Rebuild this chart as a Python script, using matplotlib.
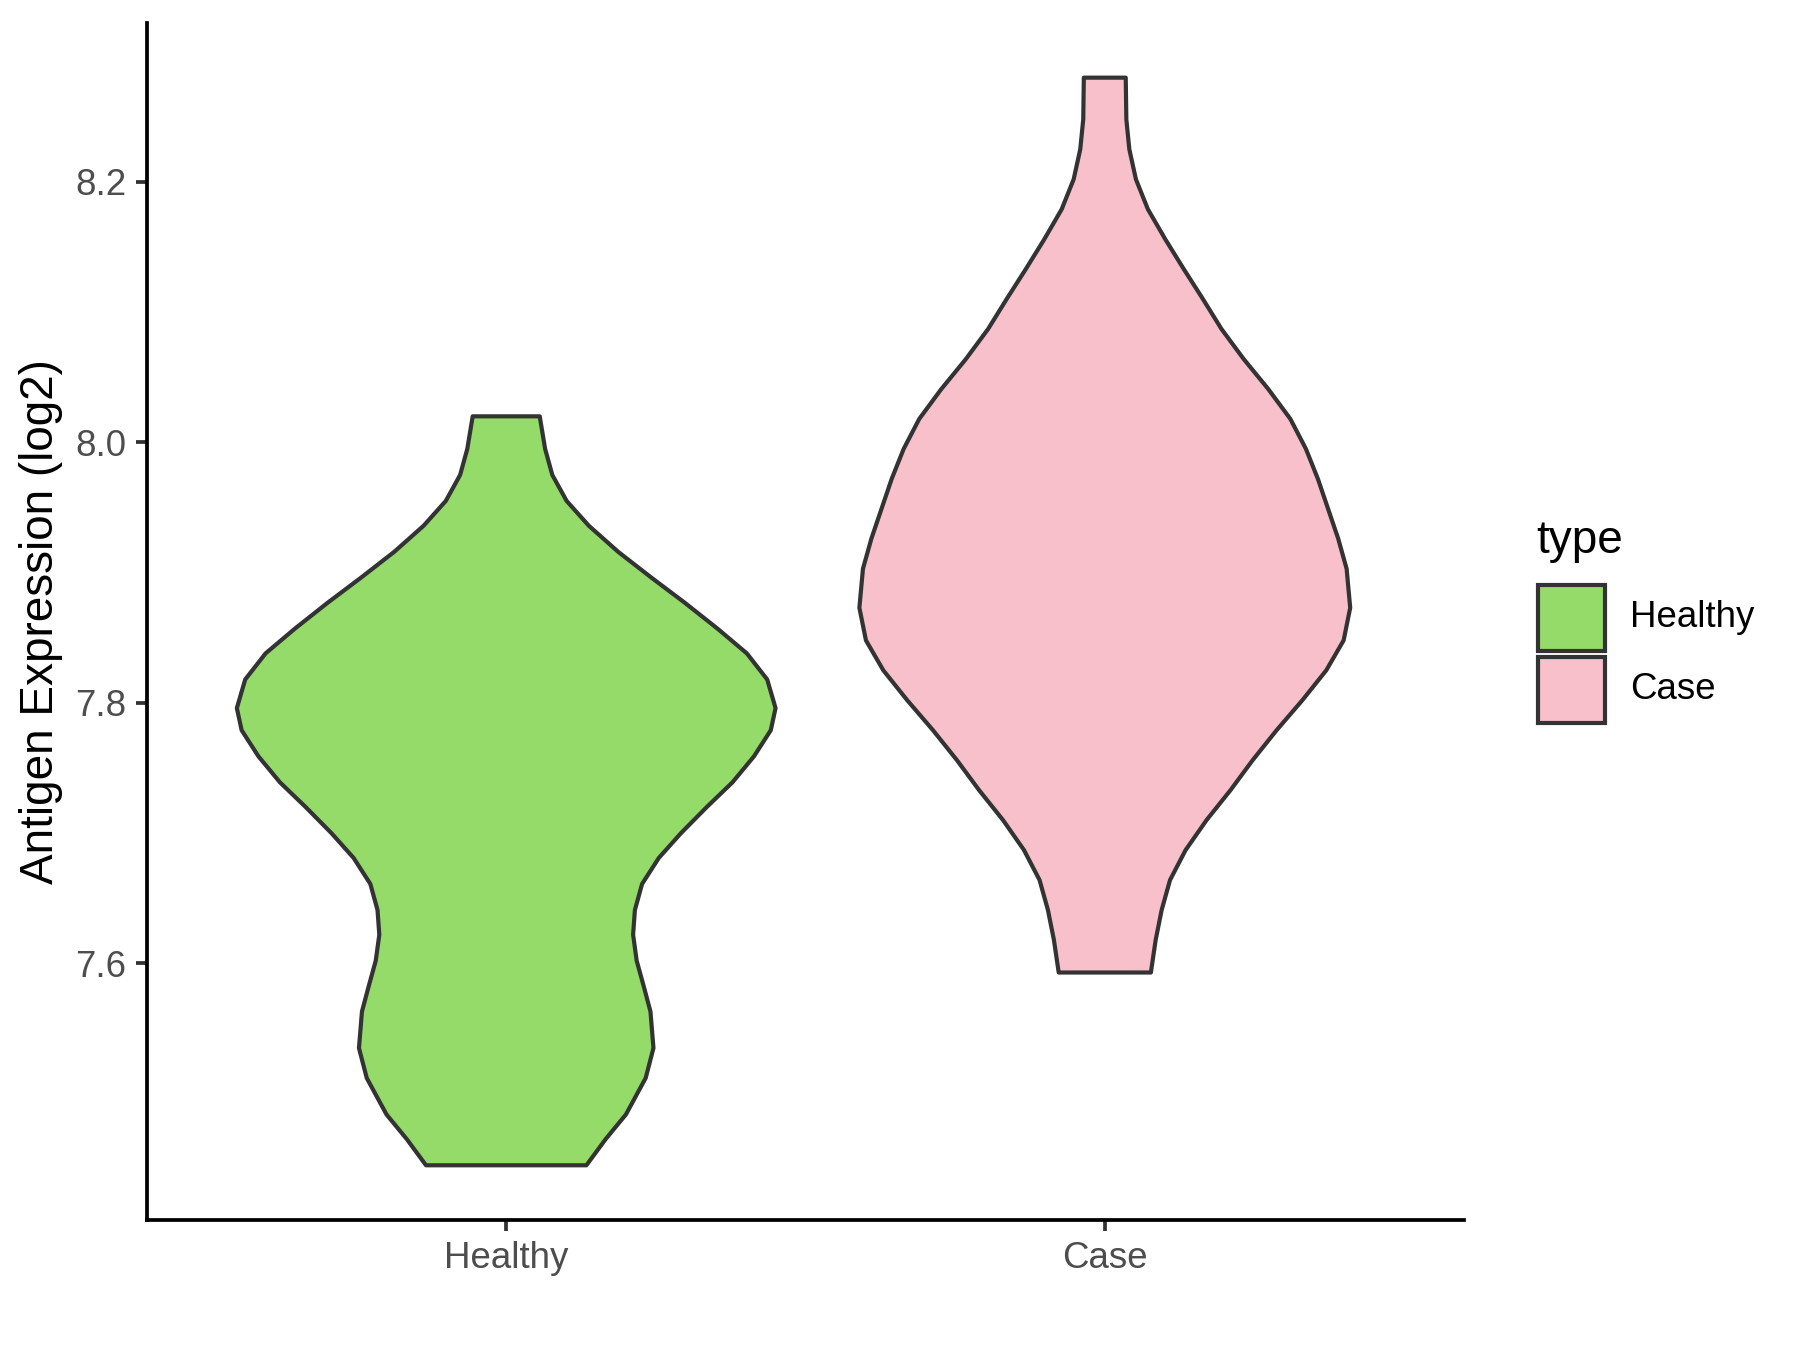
import matplotlib.pyplot as plt
from matplotlib.patches import Rectangle

plt.rcParams['font.family'] = ['Liberation Sans', 'DejaVu Sans']

groups = ['Healthy', 'Case']
colors = ['#94DB6A', '#F7C0CB']

# violin outlines: expression level -> half width (x units)
healthy_y = [8.020, 7.995, 7.975, 7.955, 7.936, 7.916, 7.896, 7.877, 7.857,
             7.838, 7.818, 7.796, 7.779, 7.759, 7.739, 7.720, 7.700, 7.681,
             7.661, 7.641, 7.622, 7.602, 7.582, 7.563, 7.535, 7.512, 7.484,
             7.465, 7.445]
healthy_w = [0.056, 0.065, 0.077, 0.101, 0.138, 0.187, 0.243, 0.298, 0.353,
             0.402, 0.436, 0.450, 0.442, 0.414, 0.378, 0.335, 0.292, 0.255,
             0.227, 0.215, 0.212, 0.218, 0.230, 0.241, 0.246, 0.233, 0.200,
             0.166, 0.134]

case_y = [8.280, 8.248, 8.225, 8.202, 8.179, 8.156, 8.133, 8.110, 8.087,
          8.064, 8.041, 8.018, 7.995, 7.972, 7.949, 7.926, 7.903, 7.873,
          7.848, 7.825, 7.802, 7.779, 7.756, 7.733, 7.710, 7.687, 7.664,
          7.641, 7.618, 7.593]
case_w = [0.035, 0.036, 0.041, 0.052, 0.072, 0.101, 0.132, 0.164, 0.195,
          0.232, 0.273, 0.310, 0.336, 0.356, 0.373, 0.390, 0.404, 0.410,
          0.399, 0.370, 0.330, 0.287, 0.247, 0.210, 0.170, 0.135, 0.109,
          0.095, 0.085, 0.077]

yticks = [7.6, 7.8, 8.0, 8.2]

fig = plt.figure(figsize=(6, 4.5), dpi=300)
ax = fig.add_axes([0.0817, 0.0963, 0.7316, 0.8867])

profiles = [(healthy_y, healthy_w), (case_y, case_w)]
for i, (ys, ws) in enumerate(profiles):
    pos = i + 1
    xs = [pos - w for w in ws] + [pos + w for w in ws[::-1]]
    yy = ys + ys[::-1]
    ax.fill(xs, yy, facecolor=colors[i], edgecolor='#333333', linewidth=1.0,
            joinstyle='round')

ax.set_xlim(0.4, 2.6)
ax.set_ylim(7.403, 8.322)
ax.set_xticks([1, 2])
ax.set_xticklabels(groups)
ax.set_yticks(yticks)
ax.set_yticklabels([f'{v:.1f}' for v in yticks])
ax.tick_params(length=2.75, width=0.9, color='#333333', labelcolor='#4D4D4D',
               labelsize=8.8, pad=2.2)
for side in ['top', 'right']:
    ax.spines[side].set_visible(False)
for side in ['left', 'bottom']:
    ax.spines[side].set_linewidth(0.9)
    ax.spines[side].set_color('black')
ax.set_ylabel('Antigen Expression (log2)', fontsize=11, color='black',
              labelpad=3)

# legend drawn by hand
fig.text(0.8533, 0.5993, 'type', fontsize=11, va='center', ha='left')
key_y = [0.5178, 0.4644]
for i, g in enumerate(groups):
    fig.add_artist(Rectangle((0.8546, key_y[i]), 0.0372, 0.0489,
                             transform=fig.transFigure, facecolor=colors[i],
                             edgecolor='#333333', linewidth=1.0))
    fig.text(0.9056, key_y[i] + 0.0245, g, fontsize=8.8, va='center',
             ha='left')

fig.savefig('out.png', dpi=300)
